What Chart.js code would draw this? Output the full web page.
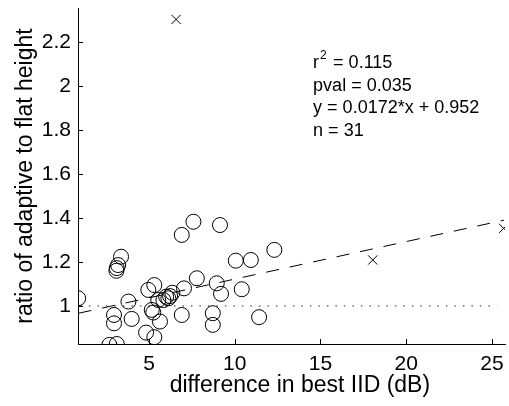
<!DOCTYPE html>
<html>
<head>
<meta charset="utf-8">
<script src="https://cdn.jsdelivr.net/npm/chart.js@4.4.0/dist/chart.umd.min.js"></script>
<style>
  html, body { margin: 0; padding: 0; background: #fff; }
  #wrap { width: 509px; height: 406px; }
</style>
</head>
<body>
<div id="wrap"><canvas id="scatterChart"></canvas></div>
<script>
// circles (included cells)
var circleX = [0.87, 2.69, 3.12, 2.96, 2.96, 3.10, 3.12, 3.20, 3.37, 3.80, 3.99, 4.83, 5.31,
               4.96, 5.31, 5.16, 5.25, 5.64, 5.54, 5.84, 6.00, 6.13, 6.23, 6.36, 6.91, 7.59,
               7.04, 6.91, 7.79, 8.72, 8.72, 8.95, 9.20, 9.14, 10.06, 10.41, 10.94, 11.42, 12.31];
var circleY = [1.035, 0.823, 0.827, 0.959, 0.921, 1.160, 1.172, 1.186, 1.224, 1.020, 0.941, 0.879, 0.858,
               1.073, 1.095, 0.982, 0.970, 0.929, 1.027, 1.027, 1.042, 1.035, 1.045, 1.060, 1.323, 1.383,
               1.080, 0.959, 1.126, 0.967, 0.914, 1.103, 1.055, 1.368, 1.206, 1.076, 1.209, 0.949, 1.255];

// crosses (excluded)
var crossX = [6.58, 18.05, 25.68];
var crossY = [2.303, 1.209, 1.353];

// fit line and reference line
var fitX = [0.90, 25.70];
var fitY = [0.967, 1.390];
var refX = [1.0, 25.3];
var refY = [1.0, 1.0];

var xTicks = [5, 10, 15, 20, 25];
var yTicks = [1, 1.2, 1.4, 1.6, 1.8, 2, 2.2];

var xTitle = 'difference in best IID (dB)';
var yTitle = 'ratio of adaptive to flat height';
var statLines = ["= 0.115", "pval = 0.035", "y = 0.0172*x + 0.952", "n = 31"];

var toPoints = function (xs, ys) {
    return xs.map(function (x, i) { return {x: x, y: ys[i]}; });
};

var fontFamily = "'Liberation Sans', Arial, Helvetica, sans-serif";

// ticks pointing into the plot, stats box and x label
var innerTicks = {
    id: 'innerTicks',
    afterDatasetsDraw: function (chart) {
        var ctx = chart.ctx, xs = chart.scales.x, ys = chart.scales.y;
        var area = chart.chartArea;
        ctx.save();
        ctx.strokeStyle = '#000';
        ctx.lineWidth = 1;
        ctx.beginPath();
        xTicks.forEach(function (v) {
            var px = Math.round(xs.getPixelForValue(v)) + 0.5;
            ctx.moveTo(px, area.bottom);
            ctx.lineTo(px, area.bottom - 5);
        });
        yTicks.forEach(function (v) {
            var py = Math.round(ys.getPixelForValue(v)) + 0.5;
            ctx.moveTo(area.left, py);
            ctx.lineTo(area.left + 5, py);
        });
        ctx.stroke();

        // stats text
        var tx = xs.getPixelForValue(14.57);
        var ty = ys.getPixelForValue(2.2) + 26;
        ctx.fillStyle = '#000';
        ctx.textBaseline = 'alphabetic';
        ctx.textAlign = 'left';
        ctx.font = '18px ' + fontFamily;
        ctx.fillText('r', tx, ty);
        ctx.font = '12px ' + fontFamily;
        ctx.fillText('2', tx + 7, ty - 9);
        ctx.font = '18px ' + fontFamily;
        ctx.fillText(statLines[0], tx + 20, ty);
        for (var i = 1; i < statLines.length; i++) {
            ctx.fillText(statLines[i], tx, ty + i * 22.7);
        }

        // x label, centred a bit right of the axes like the original
        ctx.font = '23px ' + fontFamily;
        ctx.textAlign = 'center';
        ctx.textBaseline = 'middle';
        ctx.fillText(xTitle, xs.getPixelForValue(13.8), area.bottom + 42);
        ctx.restore();
    }
};

var scatterData = {
    datasets: [
        {
            label: 'included',
            data: toPoints(circleX, circleY),
            pointStyle: 'circle',
            pointRadius: 7.5,
            backgroundColor: 'rgba(0,0,0,0)',
            borderColor: '#000',
            borderWidth: 1
        },
        {
            label: 'excluded',
            data: toPoints(crossX, crossY),
            pointStyle: 'crossRot',
            pointRadius: 6.5,
            borderColor: '#000',
            borderWidth: 1
        },
        {
            label: 'fit',
            type: 'line',
            data: toPoints(fitX, fitY),
            borderColor: '#000',
            borderWidth: 1,
            borderDash: [13, 11],
            pointRadius: 0,
            fill: false
        },
        {
            label: 'unity',
            type: 'line',
            data: toPoints(refX, refY),
            borderColor: '#222',
            borderWidth: 1,
            borderDash: [1.5, 7],
            pointRadius: 0,
            fill: false
        }
    ]
};

var scatterOptions = {
    responsive: true,
    maintainAspectRatio: false,
    animation: false,
    layout: {autoPadding: false, padding: {top: 8, right: 4, left: 0, bottom: 0}},
    plugins: {legend: {display: false}, tooltip: {enabled: false}},
    scales: {
        x: {
            type: 'linear',
            min: 0.86,
            max: 25.76,
            afterFit: function (s) {
                s.height = 62;
                s.paddingLeft = 0;
                s.paddingRight = 0;
            },
            afterBuildTicks: function (s) { s.ticks = xTicks.map(function (v) { return {value: v}; }); },
            grid: {drawOnChartArea: false, drawTicks: false},
            border: {color: '#000', width: 1},
            ticks: {
                padding: 8,
                color: '#000',
                maxRotation: 0,
                font: {family: fontFamily, size: 21}
            },
            title: {display: false}
        },
        y: {
            type: 'linear',
            min: 0.827,
            max: 2.355,
            afterFit: function (s) {
                s.width = 78;
                s.paddingTop = 0;
                s.paddingBottom = 0;
            },
            afterBuildTicks: function (s) { s.ticks = yTicks.map(function (v) { return {value: v}; }); },
            grid: {drawOnChartArea: false, drawTicks: false},
            border: {color: '#000', width: 1},
            ticks: {
                padding: 7,
                color: '#000',
                font: {family: fontFamily, size: 21},
                callback: function (v) { return String(Math.round(v * 10) / 10); }
            },
            title: {
                display: true,
                text: yTitle,
                color: '#000',
                font: {family: fontFamily, size: 23},
                padding: {top: 12, bottom: 0}
            }
        }
    }
};

var ctx1 = document.getElementById('scatterChart').getContext('2d');
new Chart(ctx1, {type: 'scatter', data: scatterData, options: scatterOptions, plugins: [innerTicks]});
</script>
</body>
</html>
